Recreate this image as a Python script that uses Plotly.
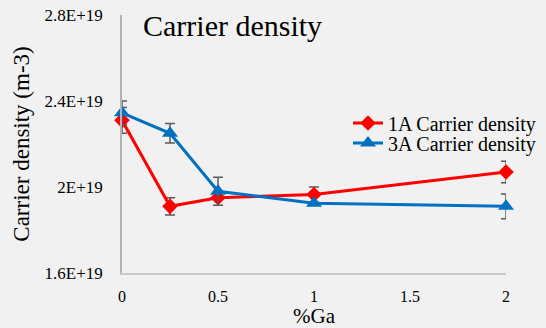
import plotly.graph_objects as go

# %Ga content of the samples
ga_pct = [0, 0.25, 0.5, 1, 2]

# Carrier density (m-3) and error bars for each series
dens_1a = [2.31e19, 1.91e19, 1.95e19, 1.965e19, 2.07e19]
err_1a = [0.06e19, 0.04e19, 0.0e19, 0.035e19, 0.05e19]
dens_3a = [2.345e19, 2.25e19, 1.98e19, 1.925e19, 1.91e19]
err_3a = [0.055e19, 0.045e19, 0.065e19, 0.0e19, 0.058e19]

y_ticks = [1.6e19, 2.0e19, 2.4e19, 2.8e19]
y_tick_text = ["1.6E+19", "2E+19", "2.4E+19", "2.8E+19"]
x_ticks = [0, 0.5, 1, 1.5, 2]
x_tick_text = ["0", "0.5", "1", "1.5", "2"]

SERIF = "Liberation Serif"
ERR_COLOR = "#5a5a5a"

fig = go.Figure()
fig.add_trace(go.Scatter(
    x=ga_pct, y=dens_1a, name="1A Carrier density",
    mode="lines+markers",
    line=dict(color="#ff0000", width=3),
    marker=dict(symbol="diamond", size=12, color="#ff0000"),
    error_y=dict(type="data", array=err_1a, color=ERR_COLOR, thickness=1.5, width=5),
    cliponaxis=False, legend="legend",
))
fig.add_trace(go.Scatter(
    x=ga_pct, y=dens_3a, name="3A Carrier density",
    mode="lines+markers",
    line=dict(color="#0070c0", width=3),
    marker=dict(symbol="triangle-up", size=14, color="#0070c0"),
    error_y=dict(type="data", array=err_3a, color=ERR_COLOR, thickness=1.5, width=5),
    cliponaxis=False, legend="legend2",
))

legend_style = dict(
    xanchor="left", yanchor="middle",
    bgcolor="rgba(0,0,0,0)",
    font=dict(family=SERIF, size=20, color="#000000"),
    itemwidth=30,
)

fig.update_layout(
    width=546, height=328,
    margin=dict(l=122, r=40, t=15, b=55, autoexpand=False),
    paper_bgcolor="#f1f1f1",
    plot_bgcolor="#f1f1f1",
    font=dict(family=SERIF, color="#000000"),
    title=dict(
        text="Carrier density",
        font=dict(family=SERIF, size=30, color="#000000"),
        x=143 / 546, xanchor="left", xref="container",
        y=1 - 25 / 328, yanchor="middle", yref="container",
    ),
    legend=dict(x=(348 - 122) / 384, y=1 - (123 - 15) / 258, **legend_style),
    legend2=dict(x=(348 - 122) / 384, y=1 - (143 - 15) / 258, **legend_style),
    showlegend=True,
)

fig.update_xaxes(
    range=[0, 2], automargin=False,
    tickvals=x_ticks, ticktext=x_tick_text,
    showgrid=False, zeroline=False,
    showline=True, linecolor="#c8c8c8", linewidth=1.5,
    ticks="", ticklabelstandoff=8,
    tickfont=dict(family=SERIF, size=16),
    title=dict(text="%Ga", font=dict(family=SERIF, size=21), standoff=8),
)
fig.update_yaxes(
    range=[1.6e19, 2.8e19], automargin=False,
    tickvals=y_ticks, ticktext=y_tick_text,
    showgrid=False, zeroline=False,
    showline=True, linecolor="#b4b4b4", linewidth=1.5,
    ticks="", ticklabelstandoff=14,
    tickfont=dict(family=SERIF, size=17),
    title=dict(text="Carrier density (m-3)", font=dict(family=SERIF, size=23), standoff=9),
)

fig.write_html("out.html")
